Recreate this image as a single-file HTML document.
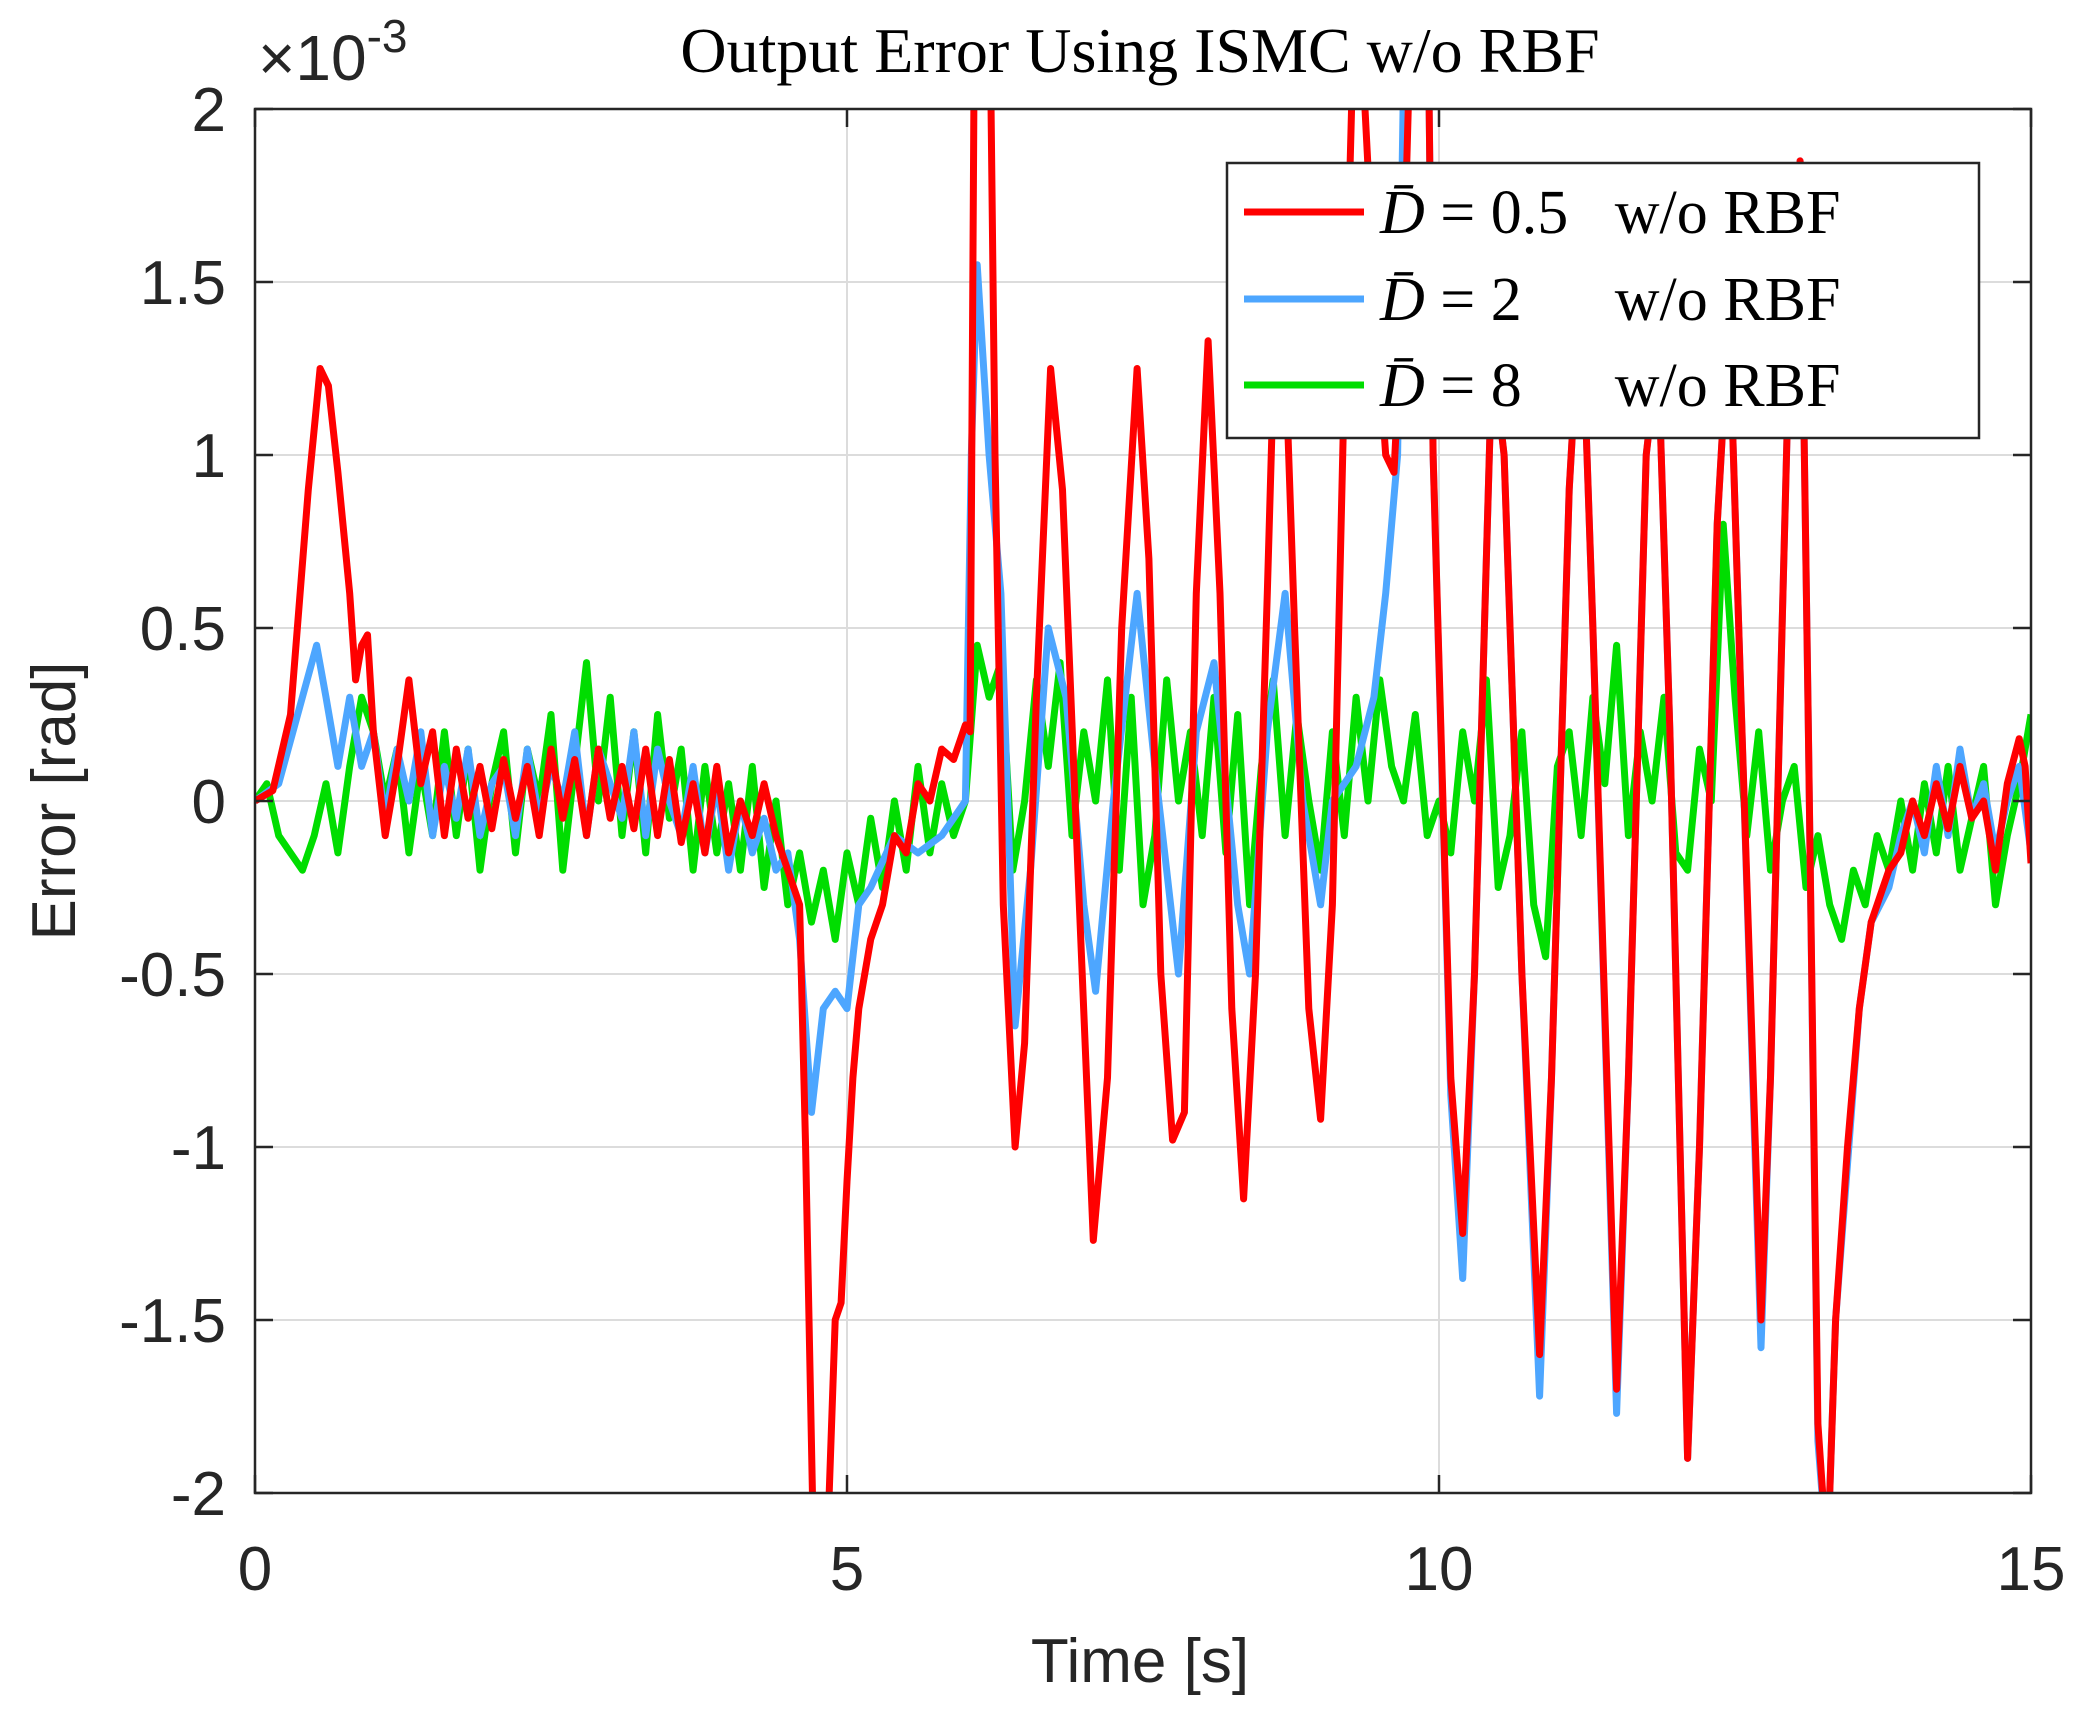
<!DOCTYPE html>
<html><head><meta charset="utf-8"><style>
html,body{margin:0;padding:0;background:#fff;}
svg{display:block;}
text{white-space:pre;}
</style></head><body>
<svg id="chart" width="2082" height="1723" viewBox="0 0 2082 1723" xmlns="http://www.w3.org/2000/svg">
<defs><clipPath id="clip"><rect x="255" y="109" width="1776" height="1384"/></clipPath></defs>
<rect x="0" y="0" width="2082" height="1723" fill="#fff"/>
<g id="grid"></g>
<g id="series" clip-path="url(#clip)"></g>
<rect x="255" y="109" width="1776" height="1384" fill="none" stroke="#262626" stroke-width="2.5"/>
<g id="ticks"></g>
<text x="1140" y="72" font-family="Liberation Serif, serif" font-size="64" text-anchor="middle" fill="#000">Output Error Using ISMC w/o RBF</text>
<text x="258" y="80" font-family="Liberation Sans, sans-serif" font-size="64" fill="#262626">×10<tspan dy="-28" font-size="46">-3</tspan></text>
<text x="1140" y="1682" font-family="Liberation Sans, sans-serif" font-size="62" text-anchor="middle" fill="#262626">Time [s]</text>
<text transform="translate(75,801) rotate(-90)" font-family="Liberation Sans, sans-serif" font-size="62" text-anchor="middle" fill="#262626">Error [rad]</text>
<g>
<rect x="1227" y="163" width="752" height="275" fill="#fff" stroke="#262626" stroke-width="2.5"/>
<line x1="1244" y1="212" x2="1364" y2="212" stroke="#ff0000" stroke-width="7"/>
<line x1="1244" y1="299" x2="1364" y2="299" stroke="#4da6ff" stroke-width="7"/>
<line x1="1244" y1="385" x2="1364" y2="385" stroke="#00dd00" stroke-width="7"/>
<text x="1380" y="233" font-family="Liberation Serif, serif" font-size="62" fill="#000"><tspan font-style="italic">D̄</tspan> = 0.5   w/o RBF</text>
<text x="1380" y="320" font-family="Liberation Serif, serif" font-size="62" fill="#000"><tspan font-style="italic">D̄</tspan> = 2      w/o RBF</text>
<text x="1380" y="406" font-family="Liberation Serif, serif" font-size="62" fill="#000"><tspan font-style="italic">D̄</tspan> = 8      w/o RBF</text>
</g>
</svg>
<script>
const xTicks=[0,5,10,15];
const yTicks=[-2,-1.5,-1,-0.5,0,0.5,1,1.5,2];
const yTickLabels=["-2","-1.5","-1","-0.5","0","0.5","1","1.5","2"];
const redT=[0,0.15,0.3,0.45,0.55,0.62,0.7,0.8,0.85,0.9,0.95,1.0,1.1,1.2,1.3,1.4,1.5,1.6,1.7,1.8,1.9,2.0,2.1,2.2,2.3,2.4,2.5,2.6,2.7,2.8,2.9,3.0,3.1,3.2,3.3,3.4,3.5,3.6,3.7,3.8,3.9,4.0,4.1,4.2,4.3,4.4,4.5,4.6,4.65,4.72,4.8,4.85,4.9,4.95,5.0,5.05,5.1,5.2,5.3,5.4,5.5,5.6,5.7,5.8,5.9,6.0,6.04,6.08,6.2,6.25,6.32,6.42,6.5,6.6,6.72,6.82,6.95,7.08,7.2,7.32,7.45,7.55,7.65,7.75,7.85,7.95,8.05,8.15,8.25,8.35,8.45,8.55,8.65,8.78,8.9,9.0,9.1,9.2,9.3,9.45,9.55,9.62,9.7,9.78,9.9,9.95,10.1,10.2,10.3,10.45,10.55,10.7,10.85,10.95,11.1,11.2,11.3,11.5,11.6,11.75,11.85,11.95,12.1,12.2,12.35,12.45,12.55,12.72,12.8,12.95,13.05,13.12,13.2,13.28,13.35,13.45,13.55,13.65,13.8,13.9,14.0,14.1,14.2,14.3,14.4,14.5,14.6,14.7,14.8,14.9,14.95,15.0];
const redV=[0,0.03,0.25,0.9,1.25,1.2,0.95,0.6,0.35,0.45,0.48,0.2,-0.1,0.1,0.35,0.05,0.2,-0.1,0.15,-0.05,0.1,-0.08,0.12,-0.05,0.1,-0.1,0.15,-0.05,0.12,-0.1,0.15,-0.05,0.1,-0.08,0.15,-0.1,0.12,-0.12,0.05,-0.15,0.1,-0.15,0.0,-0.1,0.05,-0.1,-0.2,-0.3,-1.0,-2.2,-2.3,-2.0,-1.5,-1.45,-1.1,-0.8,-0.6,-0.4,-0.3,-0.1,-0.15,0.05,0.0,0.15,0.12,0.22,0.2,2.5,2.5,1.0,-0.3,-1.0,-0.7,0.3,1.25,0.9,-0.2,-1.27,-0.8,0.5,1.25,0.7,-0.5,-0.98,-0.9,0.6,1.33,0.6,-0.6,-1.15,-0.5,0.6,1.8,0.5,-0.6,-0.92,-0.3,1.2,2.5,1.5,1.0,0.95,1.5,2.5,2.5,1.0,-0.8,-1.25,-0.5,1.3,1.0,-0.5,-1.6,-0.8,0.9,1.5,0.5,-1.7,-0.8,1.0,1.3,0.2,-1.9,-1.0,0.8,1.4,0.3,-1.5,-0.8,1.2,1.85,0.2,-1.8,-2.2,-1.5,-1.0,-0.6,-0.35,-0.2,-0.15,0.0,-0.1,0.05,-0.08,0.1,-0.05,0.0,-0.2,0.05,0.18,0.1,-0.18];
const blueT=[0,0.2,0.4,0.52,0.6,0.7,0.8,0.9,1.0,1.1,1.2,1.3,1.4,1.5,1.6,1.7,1.8,1.9,2.0,2.1,2.2,2.3,2.4,2.5,2.6,2.7,2.8,2.9,3.0,3.1,3.2,3.3,3.4,3.5,3.6,3.7,3.8,3.9,4.0,4.1,4.2,4.3,4.4,4.5,4.6,4.7,4.8,4.9,5.0,5.1,5.2,5.4,5.6,5.8,6.0,6.05,6.1,6.2,6.3,6.42,6.55,6.7,6.85,7.0,7.1,7.25,7.45,7.6,7.8,7.95,8.1,8.3,8.4,8.55,8.7,8.85,9.0,9.1,9.3,9.45,9.55,9.65,9.72,9.9,9.95,10.1,10.2,10.3,10.45,10.55,10.7,10.85,10.95,11.1,11.2,11.3,11.5,11.6,11.75,11.85,11.95,12.1,12.2,12.35,12.45,12.55,12.72,12.8,12.95,13.05,13.12,13.2,13.28,13.35,13.45,13.55,13.65,13.8,13.9,14.0,14.1,14.2,14.3,14.4,14.5,14.6,14.7,14.8,14.9,15.0];
const blueV=[0,0.05,0.3,0.45,0.3,0.1,0.3,0.1,0.2,-0.05,0.15,0.0,0.2,-0.1,0.1,-0.05,0.15,-0.1,0.05,0.1,-0.1,0.15,-0.05,0.1,0.0,0.2,-0.1,0.15,0.05,-0.05,0.2,-0.1,0.15,0.0,-0.1,0.1,-0.15,0.05,-0.2,0.0,-0.15,-0.05,-0.2,-0.15,-0.4,-0.9,-0.6,-0.55,-0.6,-0.3,-0.25,-0.1,-0.15,-0.1,0.0,1.0,1.55,1.0,0.6,-0.65,-0.2,0.5,0.3,-0.3,-0.55,0.0,0.6,0.1,-0.5,0.2,0.4,-0.3,-0.5,0.2,0.6,0.0,-0.3,0.0,0.1,0.3,0.6,1.0,2.5,2.5,1.0,-0.85,-1.38,-0.5,1.3,1.0,-0.5,-1.72,-0.8,0.9,1.5,0.5,-1.77,-0.8,1.0,1.3,0.2,-1.9,-1.0,0.8,1.4,0.3,-1.58,-0.8,1.2,1.85,0.2,-1.85,-2.2,-1.5,-1.05,-0.6,-0.35,-0.25,-0.1,0.0,-0.15,0.1,-0.1,0.15,-0.05,0.05,-0.15,0.0,0.1,-0.15];
const greenV=[0,0.05,-0.1,-0.15,-0.2,-0.1,0.05,-0.15,0.1,0.3,0.2,0,0.15,-0.15,0.1,-0.1,0.2,-0.1,0.15,-0.2,0.05,0.2,-0.15,0.15,0.0,0.25,-0.2,0.1,0.4,0.0,0.3,-0.1,0.2,-0.15,0.25,-0.05,0.15,-0.2,0.1,-0.15,0.05,-0.2,0.1,-0.25,0.0,-0.3,-0.15,-0.35,-0.2,-0.4,-0.15,-0.3,-0.05,-0.25,0.0,-0.2,0.1,-0.15,0.05,-0.1,0.0,0.45,0.3,0.4,-0.2,0.0,0.35,0.1,0.4,-0.1,0.2,0.0,0.35,-0.2,0.3,-0.3,-0.1,0.35,0.0,0.2,-0.1,0.3,-0.15,0.25,-0.3,0.1,0.35,-0.1,0.25,0.0,-0.2,0.2,-0.1,0.3,0.0,0.35,0.1,0.0,0.25,-0.1,0.0,-0.15,0.2,0.0,0.35,-0.25,-0.1,0.2,-0.3,-0.45,0.1,0.2,-0.1,0.3,0.05,0.45,-0.1,0.2,0.0,0.3,-0.15,-0.2,0.15,0.0,0.8,0.3,-0.1,0.2,-0.2,0.0,0.1,-0.25,-0.1,-0.3,-0.4,-0.2,-0.3,-0.1,-0.2,0.0,-0.2,0.05,-0.15,0.1,-0.2,-0.05,0.1,-0.3,-0.1,0.05,0.25];
const greenDt=0.1;

const L=255,R=2031,T=109,B=1493;
const xs=t=>L+(t-0)/(15-0)*(R-L);
const ys=v=>B-(v-(-2))/(2-(-2))*(B-T);
const NS='http://www.w3.org/2000/svg';
const grid=document.getElementById('grid'),ticks=document.getElementById('ticks'),series=document.getElementById('series');
function mk(tag,attrs,parent){const e=document.createElementNS(NS,tag);for(const k in attrs)e.setAttribute(k,attrs[k]);parent.appendChild(e);return e;}
xTicks.forEach(t=>{
  const gl=mk('line',{x1:xs(t),x2:xs(t),y1:T,y2:B,stroke:'#dcdcdc','stroke-width':2},grid);
  
  
  mk('line',{x1:xs(t),x2:xs(t),y1:B,y2:B-18,stroke:'#262626','stroke-width':2.5},ticks);
  mk('line',{x1:xs(t),x2:xs(t),y1:T,y2:T+18,stroke:'#262626','stroke-width':2.5},ticks);
  const tx=mk('text',{x:xs(t),y:1590,'text-anchor':'middle','font-family':'Liberation Sans, sans-serif','font-size':62,fill:'#262626'},ticks);
  tx.textContent=String(t);
  
  
});
yTicks.forEach((v,i)=>{
  const gl=mk('line',{x1:L,x2:R,y1:ys(v),y2:ys(v),stroke:'#dcdcdc','stroke-width':2},grid);
  
  
  mk('line',{x1:L,x2:L+18,y1:ys(v),y2:ys(v),stroke:'#262626','stroke-width':2.5},ticks);
  mk('line',{x1:R,x2:R-18,y1:ys(v),y2:ys(v),stroke:'#262626','stroke-width':2.5},ticks);
  const tx=mk('text',{x:226,y:ys(v)+22,'text-anchor':'end','font-family':'Liberation Sans, sans-serif','font-size':62,fill:'#262626'},ticks);
  tx.textContent=yTickLabels[i];
  
  
});
function drawLine(ts,vs,color,name){
  const d=ts.map((t,i)=>(i?'L':'M')+xs(t).toFixed(1)+','+ys(vs[i]).toFixed(1)).join('');
  const p=mk('path',{d:d,fill:'none',stroke:color,'stroke-width':7,'stroke-linejoin':'round'},series);
  
  
}
const greenT=greenV.map((_,i)=>i*greenDt);
drawLine(greenT,greenV,'#00dd00','series-d8');
drawLine(blueT,blueV,'#4da6ff','series-d2');
drawLine(redT,redV,'#ff0000','series-d05');
</script>
</body></html>
